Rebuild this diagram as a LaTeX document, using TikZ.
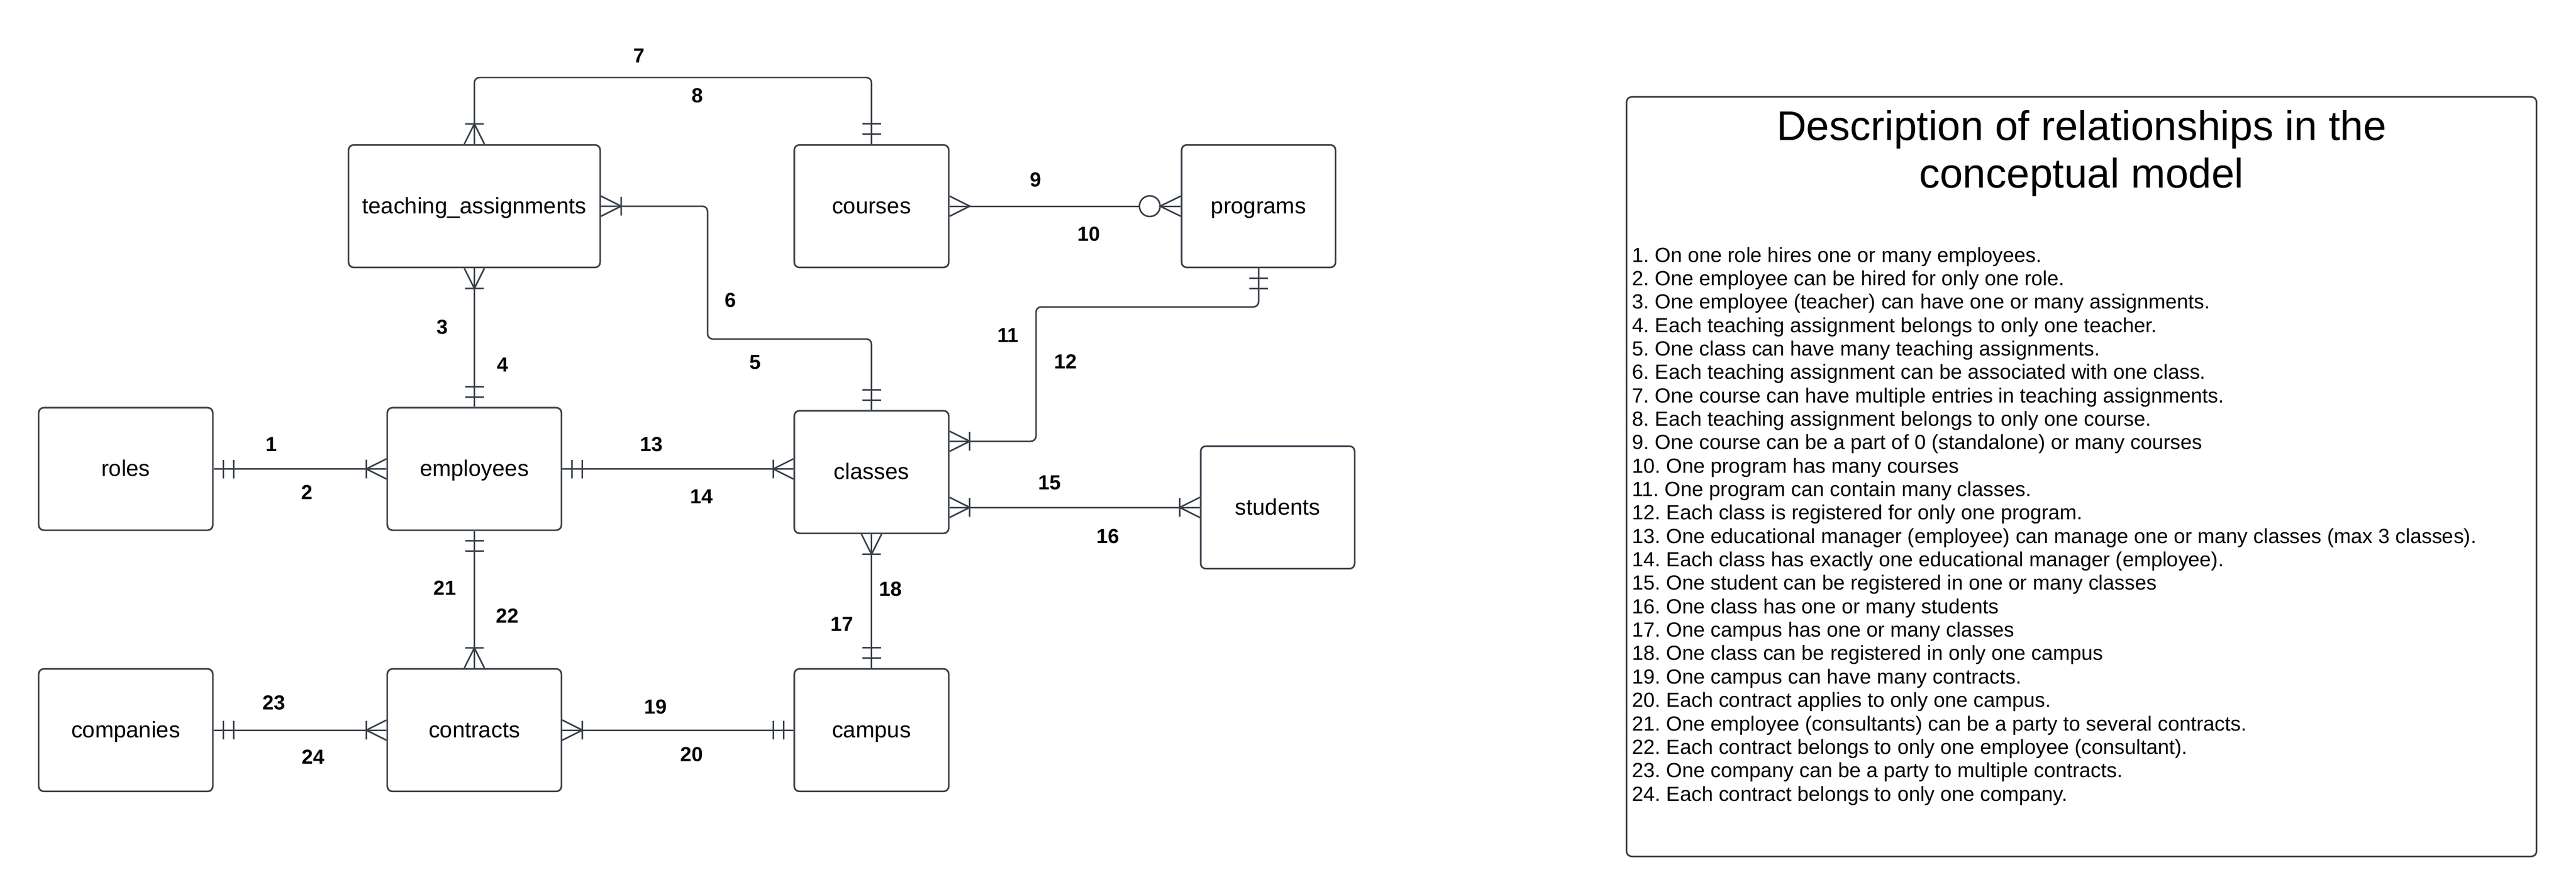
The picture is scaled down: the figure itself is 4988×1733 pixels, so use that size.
\documentclass[tikz,border=0pt]{standalone}
\usepackage{fontspec}
\setmainfont{Liberation Sans}
\usetikzlibrary{decorations.markings}
\definecolor{ercol}{RGB}{58,64,73}
\newcommand\entfont{\fontsize{12.4pt}{14pt}\selectfont}
\newcommand\numfont{\fontsize{11.2pt}{13pt}\selectfont\bfseries}
\newcommand\itemfont{\fontsize{11.27pt}{12.9pt}\selectfont}
\newcommand\titlefont{\fontsize{22.8pt}{26.2pt}\selectfont}
\frenchspacing
\tikzset{
  entity/.style={draw=ercol, line width=0.9pt, rounded corners=0.1cm, minimum height=2.37cm, inner sep=0pt,
    text height=0.37cm, text depth=0.09cm, font=\entfont},
  conn/.style={draw=ercol, line width=0.85pt, rounded corners=0.1cm},
  erbar/.style={draw=ercol, line width=0.85pt, sharp corners},
  num/.style={inner sep=0pt, font=\numfont},
  % ends of the relationship lines
  one start/.style={postaction={decorate, decoration={markings,
      mark=at position 0.19cm with {\draw[erbar] (0,-0.18cm) -- (0,0.18cm);},
      mark=at position 0.39cm with {\draw[erbar] (0,-0.18cm) -- (0,0.18cm);}}}},
  one end/.style={postaction={decorate, decoration={markings,
      mark=at position -0.39cm with {\draw[erbar] (0,-0.18cm) -- (0,0.18cm);},
      mark=at position -0.19cm with {\draw[erbar] (0,-0.18cm) -- (0,0.18cm);}}}},
  many start/.style={postaction={decorate, decoration={markings,
      mark=at position 0.39cm with {\draw[erbar] (0,-0.18cm) -- (0,0.18cm) (-0.39cm,0.195cm) -- (0,0) -- (-0.39cm,-0.195cm);}}}},
  many end/.style={postaction={decorate, decoration={markings,
      mark=at position -0.39cm with {\draw[erbar] (0,-0.18cm) -- (0,0.18cm) (0.39cm,0.195cm) -- (0,0) -- (0.39cm,-0.195cm);}}}},
  crow start/.style={postaction={decorate, decoration={markings,
      mark=at position 0.39cm with {\draw[erbar] (-0.39cm,0.195cm) -- (0,0) -- (-0.39cm,-0.195cm);}}}},
  zero many end/.style={postaction={decorate, decoration={markings,
      mark=at position -0.6cm with {\draw[erbar, fill=white] (0,0) circle (0.2cm);},
      mark=at position -0.4cm with {\draw[erbar] (0.4cm,0.195cm) -- (0,0) -- (0.4cm,-0.195cm);}}}}
}
\begin{document}
\begin{tikzpicture}[x=0.01cm, y=-0.01cm]
  \useasboundingbox (0,0) rectangle (4988,1733);
  % entities
  \node[entity, minimum width=3.37cm] (roles) at (243.5,907.5) {roles};
  \node[entity, minimum width=3.37cm] (employees) at (918.5,907.5) {employees};
  \node[entity, minimum width=4.87cm] (teaching) at (918.5,399) {teaching\_assignments};
  \node[entity, minimum width=2.99cm] (courses) at (1687.5,399) {courses};
  \node[entity, minimum width=2.98cm] (programs) at (2437,399) {programs};
  \node[entity, minimum width=2.99cm] (classes) at (1687.5,913.5) {classes};
  \node[entity, minimum width=2.98cm] (students) at (2474,982) {students};
  \node[entity, minimum width=3.37cm] (companies) at (243.5,1413) {companies};
  \node[entity, minimum width=3.37cm] (contracts) at (918.5,1413) {contracts};
  \node[entity, minimum width=2.99cm] (campus) at (1687.5,1413) {campus};
  % bends
  \coordinate (tcbend) at (1687.5,150);
  \coordinate (tkbend) at (1370,656);
  \coordinate (pcbend) at (2006,594);
  \coordinate (pcdown) at (2006,854);
  % relationships
  \draw[conn, one start, many end] (roles.east) -- (employees.west);
  \draw[conn, one start, many end] (employees.east) -- (employees.east -| classes.west);
  \draw[conn, many start, one end] (teaching.south) -- (employees.north);
  \draw[conn, many start, one end] (teaching.north) |- (tcbend) -- (courses.north);
  \draw[conn, many start, one end] (teaching.east) -| (tkbend) -| (classes.north);
  \draw[conn, crow start, zero many end] (courses.east) -- (programs.west);
  \draw[conn, one start, many end] (programs.south) |- (pcbend) -- (pcdown) -- (classes.east |- pcdown);
  \draw[conn, many start, many end] (classes.east |- students.west) -- (students.west);
  \draw[conn, many start, one end] (classes.south) -- (campus.north);
  \draw[conn, one start, many end] (employees.south) -- (contracts.north);
  \draw[conn, one start, many end] (companies.east) -- (contracts.west);
  \draw[conn, many start, one end] (contracts.east) -- (campus.west);
  % numbers
  \foreach \n/\x/\y in {1/525/860, 2/594/953, 3/856/633, 4/973/706, 5/1462/701, 6/1414/581,
      7/1237/108, 8/1350/185, 9/2005/348, 10/2108/453, 11/1952/649, 12/2063/700,
      13/1261/860, 14/1358/961, 15/2032/934, 16/2145/1038, 17/1630/1208, 18/1724/1140,
      19/1269/1368, 20/1339/1460, 21/861/1138, 22/982/1192, 23/530/1360, 24/606/1465}
    \node[num] (n\n) at (\x,\y) {\n};
  % description
  \node[draw=ercol, line width=0.9pt, rounded corners=0.1cm, minimum width=17.61cm, minimum height=14.69cm] (desc) at (4030.5,922.5) {};
  \node[inner sep=0pt, align=center, font=\titlefont] (title) at (4030.5,297) {Description of relationships in the\\conceptual model};
  \foreach \t [count=\i] in {
      {1. On one role hires one or many employees.},
      {2. One employee can be hired for only one role.},
      {3. One employee (teacher) can have one or many assignments.},
      {4. Each teaching assignment belongs to only one teacher.},
      {5. One class can have many teaching assignments.},
      {6. Each teaching assignment can be associated with one class.},
      {7. One course can have multiple entries in teaching assignments.},
      {8. Each teaching assignment belongs to only one course.},
      {9. One course can be a part of 0 (standalone) or many courses},
      {10. One program has many courses},
      {11. One program can contain many classes.},
      {12. Each class is registered for only one program.},
      {13. One educational manager (employee) can manage one or many classes (max 3 classes).},
      {14. Each class has exactly one educational manager (employee).},
      {15. One student can be registered in one or many classes},
      {16. One class has one or many students},
      {17. One campus has one or many classes},
      {18. One class can be registered in only one campus},
      {19. One campus can have many contracts.},
      {20. Each contract applies to only one campus.},
      {21. One employee (consultants) can be a party to several contracts.},
      {22. Each contract belongs to only one employee (consultant).},
      {23. One company can be a party to multiple contracts.},
      {24. Each contract belongs to only one company.}}
    \node[inner sep=0pt, anchor=base west, font=\itemfont] (item\i) at (3160,{507+(\i-1)*45.35}) {\t};
\end{tikzpicture}
\end{document}
